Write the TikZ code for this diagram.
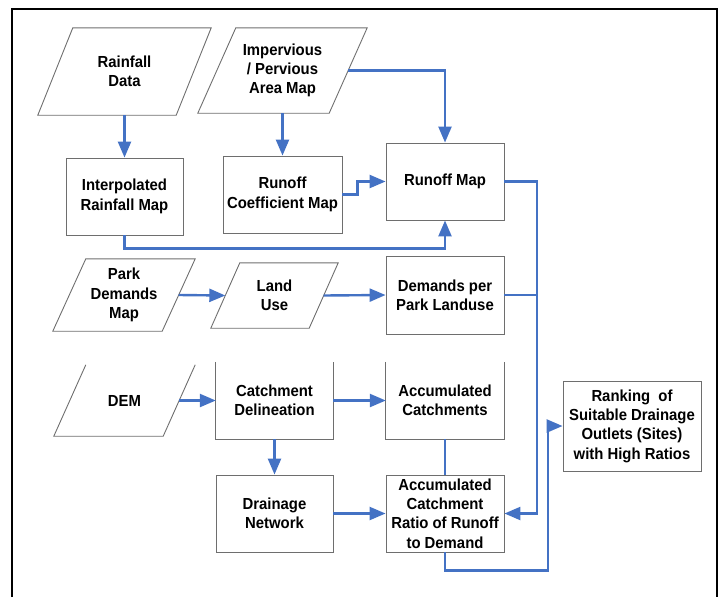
\documentclass[tikz,border=0pt]{standalone}
\usepackage{fontspec}
\setmainfont{Liberation Sans}[FakeStretch=0.93]
\usetikzlibrary{arrows.meta,calc}
\definecolor{flowblue}{HTML}{4472C4}
\definecolor{boxgray}{HTML}{6E6E6E}
\begin{document}
\begin{tikzpicture}[x=1pt,y=-1pt,
  txt/.style={font=\fontsize{16}{19.3}\selectfont\bfseries, align=center, inner sep=0pt},
  procbox/.style={txt, draw=boxgray, line width=0.9pt, fill=white},
  openbox/.style={txt},
  parabox/.style={txt},
  link/.style={draw=flowblue, line width=2.4pt},
  arr/.style={link, -{Triangle[length=16pt,width=13pt]}},
  edge/.style={draw=boxgray, line width=0.9pt}
]
\useasboundingbox (0,0) rectangle (719,597);
% frame
\draw[line width=2pt] (12,597) -- (12,9) -- (717,9) -- (717,597);

% parallelogram inputs (node = mid rectangle)
\node[parabox, minimum width=138, minimum height=87] (rain) at (124.5,71.5) {Rainfall\\Data};
\node[parabox, minimum width=131, minimum height=85] (imp) at (282.5,70.5) {Impervious\\/ Pervious\\Area Map};
\node[parabox, minimum width=109, minimum height=72] (park) at (124,295) {Park\\Demands\\Map};
\node[parabox, minimum width=98, minimum height=65] (land) at (274.5,295.5) {Land\\Use};
\node[parabox, minimum width=109, minimum height=71] (dem) at (124.5,400.5) {DEM};

\foreach \n/\d in {rain/35, imp/38, park/33, land/29}
  \draw[edge] ([xshift=\d/2]\n.north west) -- ([xshift=\d/2]\n.north east)
     -- ([xshift=-\d/2]\n.south east) -- ([xshift=-\d/2]\n.south west) -- cycle;
\draw[edge] ([xshift=16]dem.north west) -- ([xshift=-16]dem.south west)
     -- ([xshift=-16]dem.south east) -- ([xshift=16]dem.north east);

% process boxes
\node[procbox, minimum width=117, minimum height=77] (interp) at (124.5,196.5) {Interpolated\\Rainfall Map};
\node[procbox, minimum width=119, minimum height=77] (rcoef) at (282.5,194.5) {Runoff\\Coefficient Map};
\node[procbox, minimum width=118, minimum height=77] (runoff) at (445,181.5) {Runoff Map};
\node[procbox, minimum width=118, minimum height=78] (demands) at (445,295) {Demands per\\Park Landuse};
\node[openbox, minimum width=117, minimum height=77] (catch) at (274.5,400.5) {Catchment\\Delineation};
\node[openbox, minimum width=118, minimum height=77] (acccat) at (445,400.5) {Accumulated\\Catchments};
\node[procbox, minimum width=117, minimum height=77] (drain) at (274.5,513.5) {Drainage\\Network};
\node[procbox, minimum width=118, minimum height=77] (ratio) at (445,513.5) {Accumulated\\Catchment\\Ratio of Runoff\\to Demand};
\node[procbox, minimum width=138, minimum height=90] (rank) at (632,426) {Ranking~ of\\Suitable Drainage\\Outlets (Sites)\\with High Ratios};

\foreach \n in {catch, acccat}
  \draw[edge] (\n.north west) -- (\n.south west) -- (\n.south east) -- (\n.north east);

% helper coordinates
\coordinate (bus) at (537,0);
\coordinate (rj) at (548,426);

% connectors
\draw[arr] (rain.south) -- (interp.north);
\draw[arr] (imp.south) -- (rcoef.north);
\draw[arr] (imp.east) -| (runoff.north);
\draw[arr] (interp.south) -- ++(0,13) -| (runoff.south);
\draw[arr] (rcoef.east) -- ++(15,0) |- (runoff.west);
\draw[arr] (runoff.east) -- (runoff.east -| bus) |- (ratio.east);
\draw[link] (demands.east) -- (demands.east -| bus);
\draw[arr] (park.east) -- (land.west);
\draw[arr] (land.east) -- (demands.west);
\draw[arr] (dem.east) -- (catch.west);
\draw[arr] (catch.east) -- (acccat.west);
\draw[link] (acccat.south) -- (ratio.north);
\draw[arr] (catch.south) -- (drain.north);
\draw[arr] (drain.east) -- (ratio.west);
\draw[arr] (ratio.south) -- ++(0,18) -| (rj) -- (rank.west);
\end{tikzpicture}
\end{document}
